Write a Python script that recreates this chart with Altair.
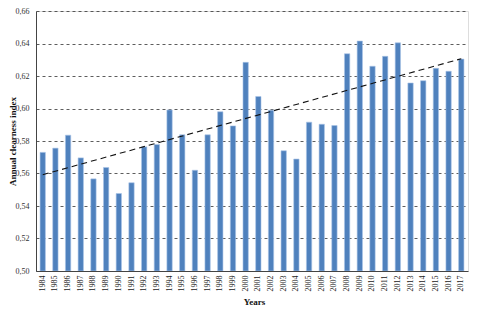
import altair as alt
import pandas as pd

years = list(range(1984, 2018))
values = [0.573, 0.5756, 0.5836, 0.5696, 0.5567, 0.5637, 0.5477, 0.5543,
          0.5764, 0.5778, 0.5991, 0.5838, 0.562, 0.5838, 0.598, 0.5893,
          0.6284, 0.6074, 0.599, 0.574, 0.5689, 0.5916, 0.5903, 0.5895,
          0.6337, 0.6415, 0.626, 0.6321, 0.6404, 0.6157, 0.6171, 0.6247,
          0.6229, 0.6304]
y_ticks = [0.50, 0.52, 0.54, 0.56, 0.58, 0.60, 0.62, 0.64, 0.66]
y_base = 0.50

df = pd.DataFrame({"Year": years, "Value": values})

FONT = "Liberation Serif"
label_expr = "replace(format(datum.value, '.2f'), '.', ',')"

x = alt.X(
    "Year:O",
    scale=alt.Scale(paddingInner=0.58, paddingOuter=0.32),
    axis=alt.Axis(
        title="Years", labelAngle=270, labelAlign="right", labelBaseline="middle",
        ticks=False, labelPadding=4, labelOverlap=False,
        labelFont=FONT, labelFontSize=8, labelColor="#222",
        titleFont=FONT, titleFontSize=9, titleFontWeight="bold",
        titleColor="#111", titleX=218, titleY=26, titleAlign="center",
        titleBaseline="top",
        domainColor="#444", domainWidth=1,
    ),
)
y = alt.Y(
    "Value:Q",
    scale=alt.Scale(domain=[0.50, 0.66], nice=False, zero=False),
    axis=alt.Axis(
        title="Annual clearness index", values=y_ticks,
        labelExpr=label_expr, ticks=False, labelPadding=7,
        labelOverlap=False,
        labelFont=FONT, labelFontSize=8, labelColor="#333",
        titleFont=FONT, titleFontSize=9, titleFontWeight="bold",
        titleColor="#111", titleX=-24, titleY=130, titleAlign="center",
        titleBaseline="middle",
        domainColor="#444", domainWidth=1,
        grid=True, gridDash=[3, 3], gridColor="#333", gridWidth=0.8,
    ),
)

bars = (
    alt.Chart(df)
    .mark_bar(color="#4F81BD", stroke="#A9C4E8", strokeWidth=0.6, clip=True)
    .encode(x=x, y=y, y2=alt.datum(y_base))
)

trend = (
    alt.Chart(df)
    .transform_regression("Year", "Value", method="linear")
    .mark_line(color="#111", strokeDash=[6, 4], strokeWidth=1.1)
    .encode(x=x, y=y)
)

chart = (
    alt.layer(bars, trend)
    .properties(
        width=432, height=260,
        padding={"left": 28, "top": 3, "right": 4, "bottom": 35},
        autosize=alt.AutoSizeParams(type="none"),
    )
    .configure_view(stroke="#555", strokeWidth=1)
    .configure(background="white")
)

chart.save("out.html", embed_options={"renderer": "svg", "actions": False})
